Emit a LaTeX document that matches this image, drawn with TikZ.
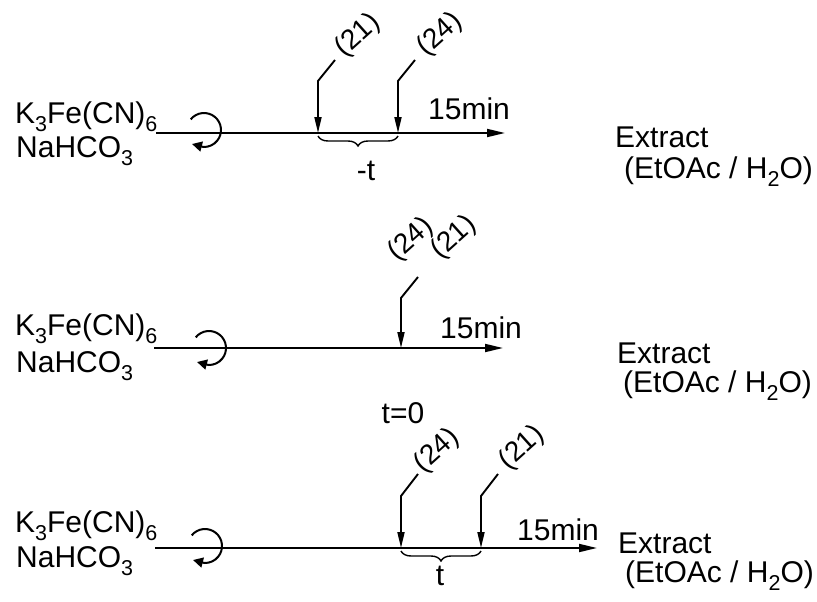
\documentclass[tikz,border=0pt]{standalone}
\usepackage{fontspec}
\setmainfont{Liberation Sans}
\usetikzlibrary{arrows.meta,decorations.pathreplacing}
\newcommand{\chemsub}[1]{\raisebox{-0.28em}{\fontsize{21.5}{21.5}\selectfont #1}}
\begin{document}
\begin{tikzpicture}[x=1pt,y=-1pt,
  every node/.style={inner sep=0pt,font=\fontsize{30}{32}\selectfont},
  txt/.style={anchor=base west},
  rxnline/.style={line width=1.9pt,-{Triangle[length=18pt,width=8pt]}},
  addarrow/.style={line width=1.9pt,-{Triangle[length=16pt,width=7pt]}},
  stirarrow/.style={line width=2pt,-{Triangle[length=10pt,width=10pt]}},
  cmpd/.style={anchor=south west,rotate=42,inner sep=1pt,font=\fontsize{28}{30}\selectfont},
  timebrace/.style={line width=1.4pt,decorate,decoration={brace,mirror,amplitude=10pt}}]
\useasboundingbox (0,0) rectangle (817,602);

% ---------- Row 1 ----------
\node[txt] (k1) at (15,123) {K\chemsub{3}Fe(CN)\chemsub{6}};
\node[txt] (n1) at (16,157) {NaHCO\chemsub{3}};
\coordinate (s1) at (156,133);
\coordinate (e1) at (505,133);
\draw[rxnline] (s1) -- (e1);
\coordinate (c1) at (204,130);
\draw[stirarrow] ([shift={(-141:17)}]c1) arc[start angle=-141,end angle=92,radius=17]
  -- ([shift={(-12,14)}]c1);
\coordinate (a1b) at (318,133);
\coordinate (a1m) at (318,81);
\coordinate (a1t) at (335,60);
\coordinate (b1b) at (398,133);
\coordinate (b1m) at (398,81);
\coordinate (b1t) at (415,60);
\draw[addarrow] (a1t) -- (a1m) -- (a1b);
\draw[addarrow] (b1t) -- (b1m) -- (b1b);
\node[cmpd] (l21a) at (348,64) {(21)};
\node[cmpd] (l24a) at (430,63) {(24)};
\draw[timebrace] ([yshift=-3pt]a1b) -- ([yshift=-3pt]b1b);
\node (mt) at (366,171) {-t};
\node[txt] (m1) at (428,120) {15min};
\node[txt] (x1) at (615,147) {Extract};
\node[txt] (w1) at (624,178) {(EtOAc / H\chemsub{2}O)};

% ---------- Row 2 ----------
\node[txt] (k2) at (15,335) {K\chemsub{3}Fe(CN)\chemsub{6}};
\node[txt] (n2) at (16,372) {NaHCO\chemsub{3}};
\coordinate (s2) at (154,348);
\coordinate (e2) at (503,348);
\draw[rxnline] (s2) -- (e2);
\coordinate (c2) at (209,348);
\draw[stirarrow] ([shift={(-141:17)}]c2) arc[start angle=-141,end angle=92,radius=17]
  -- ([shift={(-12,14)}]c2);
\coordinate (a2b) at (401,348);
\coordinate (a2m) at (401,298);
\coordinate (a2t) at (418,277);
\draw[addarrow] (a2t) -- (a2m) -- (a2b);
\node[cmpd] (l24b) at (401,268) {(24)};
\node[cmpd] (l21b) at (444,266) {(21)};
\node[txt] (m2) at (440,338) {15min};
\node (t0) at (403,413) {t=0};
\node[txt] (x2) at (617,363) {Extract};
\node[txt] (w2) at (623,392) {(EtOAc / H\chemsub{2}O)};

% ---------- Row 3 ----------
\node[txt] (k3) at (15,532) {K\chemsub{3}Fe(CN)\chemsub{6}};
\node[txt] (n3) at (16,567) {NaHCO\chemsub{3}};
\coordinate (s3) at (155,548);
\coordinate (e3) at (597,548);
\draw[rxnline] (s3) -- (e3);
\coordinate (c3) at (205,546);
\draw[stirarrow] ([shift={(-141:17)}]c3) arc[start angle=-141,end angle=92,radius=17]
  -- ([shift={(-12,14)}]c3);
\coordinate (a3b) at (401,548);
\coordinate (a3m) at (401,496);
\coordinate (a3t) at (418,474);
\coordinate (b3b) at (481,548);
\coordinate (b3m) at (481,496);
\coordinate (b3t) at (498,474);
\draw[addarrow] (a3t) -- (a3m) -- (a3b);
\draw[addarrow] (b3t) -- (b3m) -- (b3b);
\node[cmpd] (l24c) at (427,479) {(24)};
\node[cmpd] (l21c) at (512,476) {(21)};
\draw[timebrace] ([yshift=-3pt]a3b) -- ([yshift=-3pt]b3b);
\node (pt) at (440,576) {t};
\node[txt] (m3) at (517,540) {15min};
\node[txt] (x3) at (618,553) {Extract};
\node[txt] (w3) at (625,582) {(EtOAc / H\chemsub{2}O)};
\end{tikzpicture}
\end{document}
